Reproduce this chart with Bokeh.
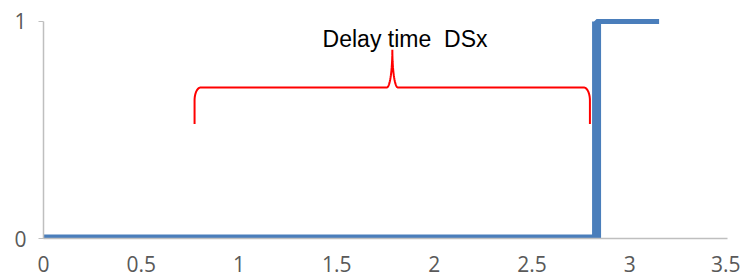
import numpy as np
from bokeh.plotting import figure
from bokeh.models import Range1d, FixedTicker
from bokeh.core.properties import value
from bokeh.embed import file_html
from bokeh.resources import INLINE

# ---- data ----
step_x = [0.0, 2.83, 2.83, 3.15]
step_y = [0.0, 0.0, 1.0, 1.0]
x_ticks = [0, 0.5, 1, 1.5, 2, 2.5, 3, 3.5]
x_tick_labels = ["0", "0.5", "1", "1.5", "2", "2.5", "3", "3.5"]
y_ticks = [0, 1]
y_tick_labels = ["0", "1"]
annotation_text = "Delay time\u00a0 DSx"
annotation_x = 1.85
annotation_y = 0.919
brace_x_start = 0.773
brace_x_end = 2.796
brace_x_mid = 1.785
brace_y_end = 0.527
brace_y_bar = 0.696
brace_y_peak = 0.870

# ---- brace geometry (parametric curve) ----
rx, ry = 0.032, 0.06      # end corners
cw = 0.028                 # cusp half width
t = np.linspace(0, np.pi / 2, 20)
lx = brace_x_start + rx - rx * np.cos(t)
ly = brace_y_bar - ry + ry * np.sin(t)
c1x = brace_x_mid - cw + cw * np.sin(t)
c1y = brace_y_peak - (brace_y_peak - brace_y_bar) * np.cos(t)
c2x = brace_x_mid + cw - cw * np.cos(t)
c2y = brace_y_peak - (brace_y_peak - brace_y_bar) * np.sin(t)
rxs = brace_x_end - rx + rx * np.sin(t)
rys = brace_y_bar - ry + ry * np.cos(t)
bx = np.r_[brace_x_start, lx, c1x, c2x, rxs, brace_x_end]
by = np.r_[brace_y_end, ly, c1y, c2y, rys, brace_y_end]

# ---- figure ----
p = figure(width=740, height=278, output_backend="svg", toolbar_location=None,
           x_range=Range1d(0, 3.5), y_range=Range1d(0, 1.032),
           min_border_left=43, min_border_right=13, min_border_top=14,
           min_border_bottom=40)
p.outline_line_color = None
p.xgrid.visible = False
p.ygrid.visible = False
p.background_fill_color = "white"
p.border_fill_color = "white"

blue = "#4a7ebb"
p.line(step_x, step_y, line_color=blue, line_width=5)
p.line(step_x[0:2], step_y[0:2], line_color=blue, line_width=8)   # low segment
p.line(step_x[1:3], step_y[1:3], line_color=blue, line_width=9)   # rising edge
p.line(bx, by, line_color="#ff0000", line_width=2)

p.text(x=[annotation_x], y=[annotation_y], text=[annotation_text],
       text_font=value("Liberation Sans"), text_font_size="23px",
       text_color="black", text_align="center", text_baseline="alphabetic")

xa = p.xaxis[0]
xa.ticker = FixedTicker(ticks=x_ticks)
xa.major_label_overrides = {t_: l for t_, l in zip(x_ticks, x_tick_labels)}
xa.bounds = (0, 3.5)
xa.axis_line_color = "#bfbfbf"
xa.axis_line_width = 1.5
xa.major_tick_out = 0
xa.major_tick_in = 0
xa.minor_tick_out = 0
xa.minor_tick_in = 0
xa.major_label_standoff = 17
xa.major_label_text_font = "Open Sans"
xa.major_label_text_font_size = "21px"
xa.major_label_text_color = "#595959"

ya = p.yaxis[0]
ya.ticker = FixedTicker(ticks=y_ticks)
ya.major_label_overrides = {t_: l for t_, l in zip(y_ticks, y_tick_labels)}
ya.bounds = (0, 1)
ya.axis_line_color = "#bfbfbf"
ya.axis_line_width = 1.5
ya.major_tick_line_color = "#bfbfbf"
ya.major_tick_out = 5
ya.major_tick_in = 0
ya.minor_tick_out = 0
ya.minor_tick_in = 0
ya.major_label_standoff = 12
ya.major_label_text_font = "Open Sans"
ya.major_label_text_font_size = "21px"
ya.major_label_text_color = "#595959"

open("out.html", "w").write(file_html(p, INLINE))
